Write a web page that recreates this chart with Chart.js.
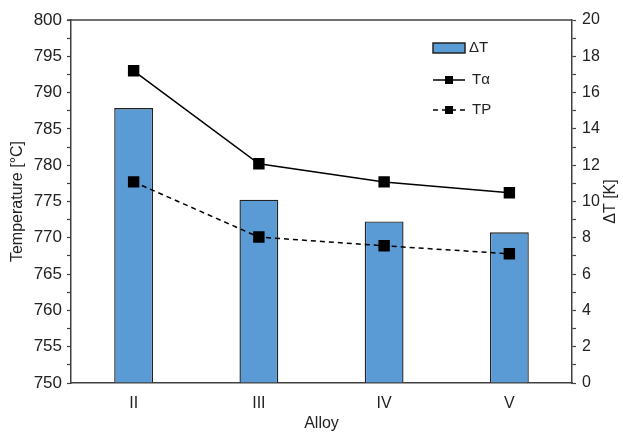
<!DOCTYPE html>
<html>
<head>
<meta charset="utf-8">
<script src="https://cdn.jsdelivr.net/npm/chart.js@4"></script>
<style>
  html, body { margin: 0; padding: 0; background: #fff; }
  #wrap { width: 623px; height: 432px; }
</style>
</head>
<body>
<div id="wrap"><canvas id="myChart" width="623" height="432"></canvas></div>
<script>
var alloys = ['II', 'III', 'IV', 'V'];
var deltaT = [15.15, 10.1, 8.9, 8.3];        // bars, right axis [K]
var tAlpha = [793.0, 780.2, 777.7, 776.2];   // solid line, left axis
var tP = [777.7, 770.1, 768.9, 767.8];       // dashed line, left axis

var axisColor = '#404040';
var textColor = '#222';
var fontFamily = '"Liberation Sans", Arial, sans-serif';

// legend drawn inside the plot, top right
var innerLegend = {
    id: 'innerLegend',
    afterDraw: function(chart) {
        var ctx = chart.ctx;
        var x0 = 433, x1 = 465;
        var rows = [48, 80, 110];
        ctx.save();
        ctx.font = '15px ' + fontFamily;
        ctx.textBaseline = 'middle';
        chart.data.datasets.forEach(function(ds, i) {
            var y = rows[i];
            if (ds.type === 'bar') {
                ctx.fillStyle = ds.backgroundColor;
                ctx.strokeStyle = ds.borderColor;
                ctx.lineWidth = 1.5;
                ctx.fillRect(x0, y - 5, x1 - x0, 10);
                ctx.strokeRect(x0, y - 5, x1 - x0, 10);
                ctx.fillStyle = textColor;
                ctx.fillText(ds.label, x1 + 4, y);
            } else {
                ctx.strokeStyle = ds.borderColor;
                ctx.lineWidth = ds.borderWidth;
                ctx.setLineDash(ds.borderDash || []);
                ctx.beginPath();
                ctx.moveTo(x0, y);
                ctx.lineTo(x1, y);
                ctx.stroke();
                ctx.setLineDash([]);
                ctx.fillStyle = '#000';
                ctx.fillRect((x0 + x1) / 2 - 4, y - 4, 8, 8);
                ctx.fillStyle = textColor;
                ctx.fillText(ds.label, x1 + 7, y);
            }
        });
        ctx.restore();
    }
};

// top frame line and right axis title (reads bottom to top)
var frameAndTitle = {
    id: 'frameAndTitle',
    afterDraw: function(chart) {
        var a = chart.chartArea, ctx = chart.ctx;
        ctx.save();
        ctx.strokeStyle = axisColor;
        ctx.lineWidth = 1.5;
        ctx.beginPath();
        ctx.moveTo(a.left - 4, a.top);
        ctx.lineTo(a.right, a.top);
        ctx.stroke();

        ctx.translate(611, (a.top + a.bottom) / 2);
        ctx.rotate(-Math.PI / 2);
        ctx.font = '16px ' + fontFamily;
        ctx.fillStyle = textColor;
        ctx.textAlign = 'center';
        ctx.textBaseline = 'middle';
        ctx.fillText('ΔT [K]', 0, 0);
        ctx.restore();
    }
};

var myChart = new Chart(document.getElementById('myChart').getContext('2d'), {
    data: {
        labels: alloys,
        datasets: [{
            type: 'bar',
            label: 'ΔT',
            data: deltaT,
            yAxisID: 'y1',
            backgroundColor: '#5B9BD5',
            borderColor: '#222',
            borderWidth: 1.4,
            barPercentage: 0.31,
            categoryPercentage: 1,
            order: 2
        }, {
            type: 'line',
            label: 'Tα',
            data: tAlpha,
            yAxisID: 'y',
            borderColor: '#000',
            borderWidth: 1.5,
            pointStyle: 'rect',
            pointRadius: 7,
            pointBackgroundColor: '#000',
            pointBorderColor: '#000',
            order: 1
        }, {
            type: 'line',
            label: 'TP',
            data: tP,
            yAxisID: 'y',
            borderColor: '#000',
            borderWidth: 1.5,
            borderDash: [5, 4],
            pointStyle: 'rect',
            pointRadius: 7,
            pointBackgroundColor: '#000',
            pointBorderColor: '#000',
            order: 1
        }]
    },
    options: {
        responsive: false,
        animation: false,
        layout: { padding: { top: 20, left: 0, right: 0, bottom: 0 } },
        plugins: {
            legend: { display: false },
            tooltip: { enabled: false }
        },
        scales: {
            x: {
                grid: { display: false, drawTicks: false },
                border: { color: axisColor, width: 1.5 },
                ticks: { color: textColor, font: { family: fontFamily, size: 16 }, padding: 11 },
                title: { display: true, text: 'Alloy', color: textColor, font: { family: fontFamily, size: 16, lineHeight: 1 }, padding: { top: 0, bottom: 0 } },
                afterFit: function(s) { s.height = 49; }
            },
            y: {
                position: 'left',
                min: 750,
                max: 800,
                grid: { drawOnChartArea: false, tickLength: 4, color: axisColor, tickWidth: 1.2 },
                border: { color: axisColor, width: 1.5 },
                ticks: {
                    stepSize: 2.5,
                    autoSkip: false,
                    color: textColor,
                    font: { family: fontFamily, size: 17 },
                    padding: 5,
                    callback: function(v) { return v % 5 === 0 ? v : ''; }
                },
                title: { display: true, text: 'Temperature [°C]', color: textColor, font: { family: fontFamily, size: 16 }, padding: { top: 8, bottom: 0 } },
                afterFit: function(s) { s.width = 71; }
            },
            y1: {
                position: 'right',
                min: 0,
                max: 20,
                grid: { drawOnChartArea: false, tickLength: 4, color: axisColor, tickWidth: 1.2 },
                border: { color: axisColor, width: 1.5 },
                ticks: {
                    stepSize: 1,
                    autoSkip: false,
                    color: textColor,
                    font: { family: fontFamily, size: 16 },
                    padding: 6,
                    callback: function(v) { return v % 2 === 0 ? v : ''; }
                },
                afterFit: function(s) { s.width = 51; }
            }
        }
    },
    plugins: [innerLegend, frameAndTitle]
});
</script>
</body>
</html>
